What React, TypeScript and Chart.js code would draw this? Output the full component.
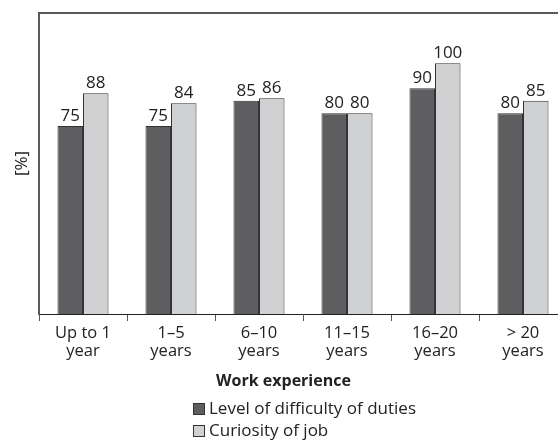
import React, { useEffect, useRef } from "react";
import { Chart, registerables } from "chart.js";

Chart.register(...registerables);

const categories: string[][] = [
  ["Up to 1", "year"],
  ["1–5", "years"],
  ["6–10", "years"],
  ["11–15", "years"],
  ["16–20", "years"],
  ["> 20", "years"],
];
const difficultyValues: number[] = [75, 75, 85, 80, 90, 80];
const curiosityValues: number[] = [88, 84, 86, 80, 100, 85];
const seriesNames: string[] = ["Level of difficulty of duties", "Curiosity of job"];
const axisTitleX = "Work experience";
const axisTitleY = "[%]";

const FONT = "'Open Sans', sans-serif";

const framePlugin = {
  id: "frameTop",
  afterDraw(chart: any) {
    const { ctx, chartArea } = chart;
    ctx.save();
    ctx.strokeStyle = "#5a5a5a";
    ctx.lineWidth = 2;
    ctx.beginPath();
    ctx.moveTo(chartArea.left - 1, chartArea.top);
    ctx.lineTo(chartArea.right, chartArea.top);
    ctx.stroke();
    ctx.restore();
  },
};

const valueLabelPlugin = {
  id: "valueLabels",
  afterDatasetsDraw(chart: any) {
    const { ctx } = chart;
    ctx.save();
    ctx.font = `17px ${FONT}`;
    ctx.fillStyle = "#222";
    ctx.textAlign = "center";
    ctx.textBaseline = "alphabetic";
    chart.data.datasets.forEach((ds: any, i: number) => {
      const meta = chart.getDatasetMeta(i);
      meta.data.forEach((bar: any, j: number) => {
        ctx.fillText(String(ds.data[j]), bar.x, bar.y - 5);
      });
    });
    ctx.restore();
  },
};

const legendPlugin = {
  id: "customLegend",
  afterDraw(chart: any) {
    const { ctx } = chart;
    ctx.save();
    ctx.font = `17px ${FONT}`;
    ctx.textBaseline = "middle";
    ctx.textAlign = "left";
    const x0 = 193;
    const rows = [409, 431];
    chart.data.datasets.forEach((ds: any, i: number) => {
      const y = rows[i];
      ctx.fillStyle = ds.backgroundColor;
      ctx.fillRect(x0, y - 6, 11, 11);
      ctx.strokeStyle = "#333";
      ctx.lineWidth = 1;
      ctx.strokeRect(x0 + 0.5, y - 5.5, 11, 11);
      ctx.fillStyle = "#222";
      ctx.fillText(ds.label, x0 + 16, y);
    });
    ctx.restore();
  },
};

export default function App() {
  const ref = useRef<HTMLCanvasElement>(null);
  useEffect(() => {
    if (!ref.current) return;
    const chart = new Chart(ref.current, {
      type: "bar",
      data: {
        labels: categories,
        datasets: [
          {
            label: seriesNames[0],
            data: difficultyValues,
            backgroundColor: "#5e5e60",
            borderColor: "#333",
            borderWidth: 1,
            categoryPercentage: 0.58,
            barPercentage: 1,
          },
          {
            label: seriesNames[1],
            data: curiosityValues,
            backgroundColor: "#d0d1d3",
            borderColor: "#333",
            borderWidth: 1,
            categoryPercentage: 0.58,
            barPercentage: 1,
          },
        ],
      },
      options: {
        responsive: false,
        animation: false,
        layout: { padding: { left: 0, top: 13, right: 1, bottom: 50 } },
        plugins: {
          legend: { display: false },
          tooltip: { enabled: false },
          title: {
            display: true,
            position: "bottom",
            text: axisTitleX,
            color: "#222",
            font: { family: FONT, size: 16, weight: "bold", lineHeight: 1.2 },
            padding: { top: 7.6, bottom: 0.4 },
          },
        },
        scales: {
          x: {
            grid: {
              display: true,
              drawOnChartArea: false,
              drawTicks: true,
              tickLength: 7,
              color: "#555",
              offset: true,
            },
            border: { display: true, color: "#222", width: 1 },
            ticks: {
              color: "#222",
              padding: 3,
              maxRotation: 0,
              autoSkip: false,
              font: { family: FONT, size: 16.5, lineHeight: 1.115 },
            },
          },
          y: {
            min: 0,
            max: 120,
            grid: { display: false, drawTicks: false },
            border: { display: true, color: "#5a5a5a", width: 2 },
            ticks: { display: false },
            title: {
              display: true,
              text: axisTitleY,
              color: "#222",
              font: { family: FONT, size: 17, lineHeight: 1.2 },
              padding: { top: 11.8, bottom: 6.8 },
            },
          },
        },
      },
      plugins: [framePlugin, valueLabelPlugin, legendPlugin],
    } as any);
    return () => chart.destroy();
  }, []);

  return (
    <div
      style={{
        position: "fixed",
        left: 0,
        top: 0,
        width: 558,
        height: 441,
        overflow: "hidden",
        background: "#fff",
      }}
    >
      <canvas ref={ref} width={568} height={441} style={{ width: 568, height: 441, display: "block" }} />
    </div>
  );
}
